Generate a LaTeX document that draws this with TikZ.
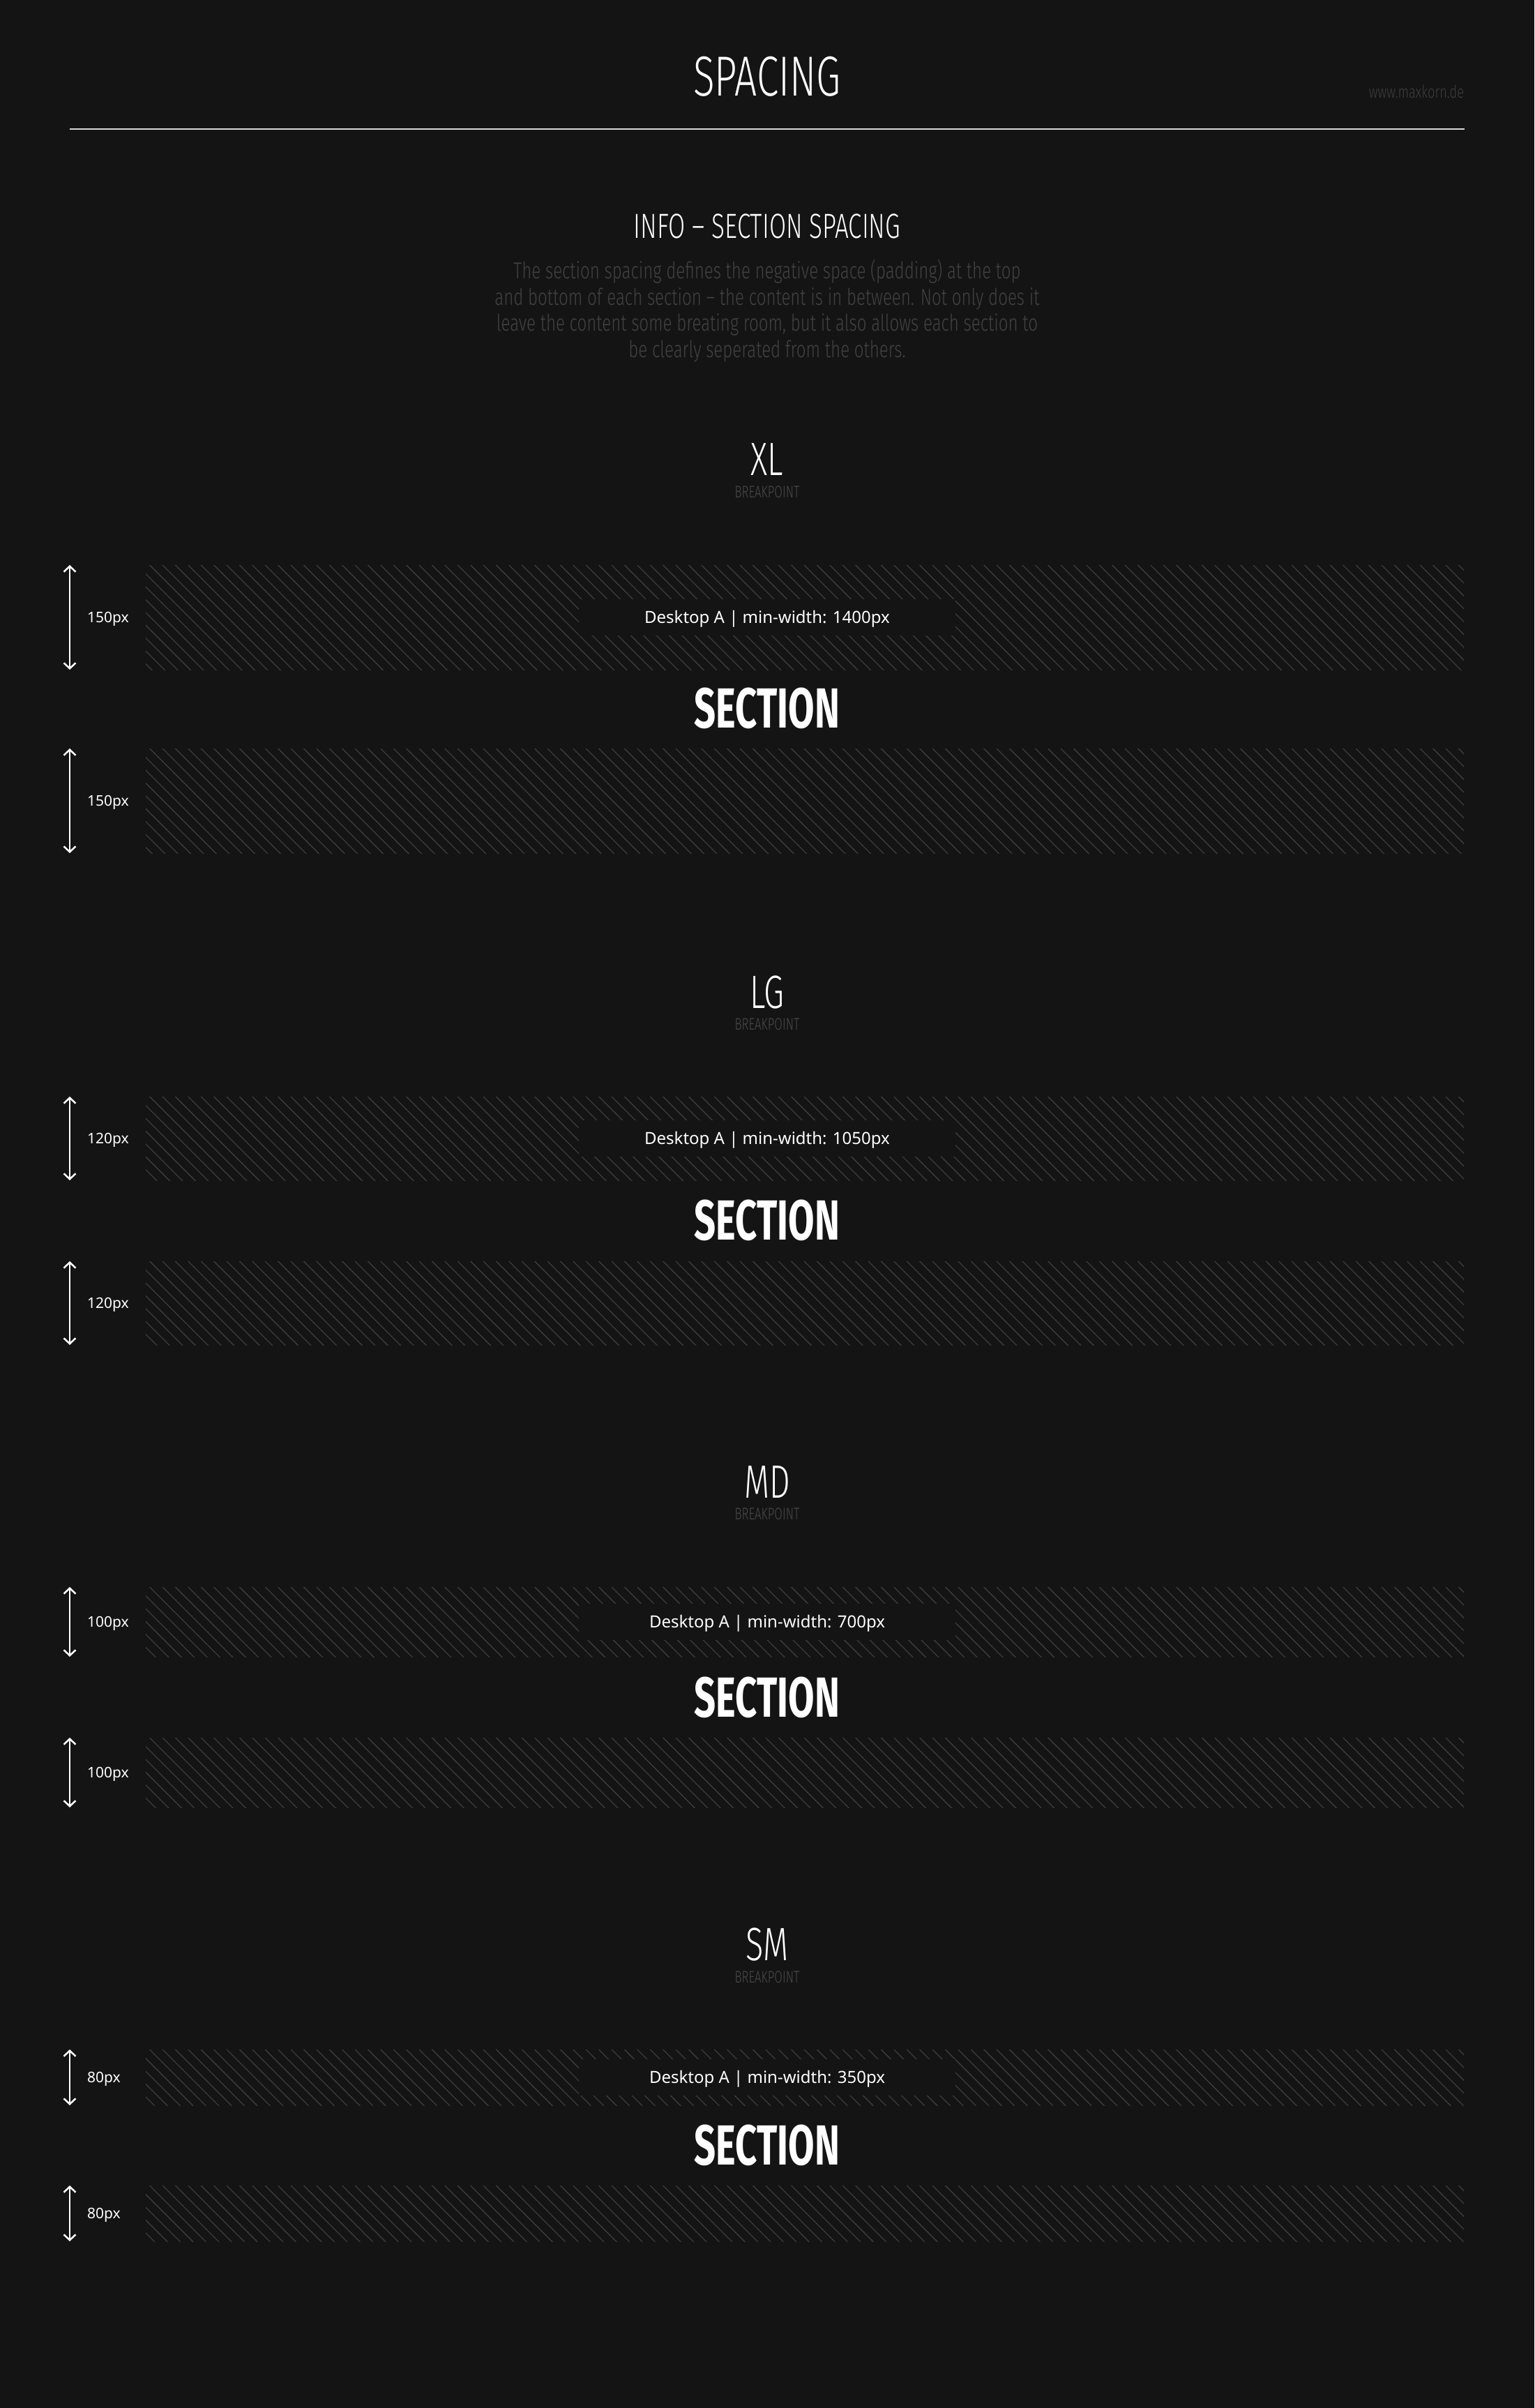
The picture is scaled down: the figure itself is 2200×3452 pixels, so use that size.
\documentclass[tikz,border=0pt]{standalone}
\usepackage{fontspec}
\setmainfont{Noto Sans}
\newfontfamily\thinf[FakeStretch=0.7]{Fira Sans Light}
\newfontfamily\paraf[FakeStretch=0.73]{Fira Sans Light}
\newfontfamily\condf[FakeStretch=0.67]{Fira Sans}
\usetikzlibrary{arrows.meta}
\definecolor{bg}{HTML}{141414}
\definecolor{rulec}{HTML}{D9D9D9}
\definecolor{paragc}{HTML}{424242}
\definecolor{bpc}{HTML}{4A4A4A}
\definecolor{wwwc}{HTML}{3E3E3E}
\definecolor{hatchc}{HTML}{3C3C3C}
\tikzset{
  every node/.style={inner sep=0pt, outer sep=0pt},
  maintitle/.style={text=white, font=\thinf\fontsize{81}{90}\selectfont},
  infohead/.style={text=white, font=\thinf\fontsize{50}{56}\selectfont},
  paragline/.style={text=paragc, anchor=base, font=\paraf\fontsize{33}{38}\selectfont},
  bptitle/.style={text=white, font=\thinf\fontsize{67}{75}\selectfont},
  bpsub/.style={text=bpc, font=\thinf\fontsize{24}{28}\selectfont},
  wwwlabel/.style={text=wwwc, anchor=east, font=\paraf\fontsize{25}{29}\selectfont},
  sectiontitle/.style={text=white, font=\condf\bfseries\fontsize{81}{90}\selectfont},
  hatchline/.style={draw=hatchc, line width=1.3pt},
  dimarrow/.style={draw=white, line width=2.5pt,
     {Straight Barb[length=8pt,width=17pt,line width=2.5pt]}-{Straight Barb[length=8pt,width=17pt,line width=2.5pt]}},
  pxlabel/.style={text=white, anchor=west, text height=15pt, text depth=0pt,
     font=\fontsize{21}{25}\selectfont},
  deskbox/.style={fill=bg, text=white, minimum width=540pt, minimum height=52pt,
     text height=17pt, text depth=0pt, font=\fontsize{24}{29}\selectfont},
}
\newcommand{\spband}[4]{%
  \begin{scope}
    \clip (209,#2) rectangle (2099,#3);
    \foreach \i in {0,...,114} \draw[hatchline] ({49+\i*18.4},#2) -- ++(200,200);
  \end{scope}
  \coordinate (#1t) at (100,#2);
  \coordinate (#1b) at (100,#3);
  \draw[dimarrow] (#1t) -- (#1b);
  \node[pxlabel] (#1l) at (125,{(#2+#3)/2}) {#4};
}
\begin{document}
\begin{tikzpicture}[x=1pt,y=-1pt]
\fill[bg] (0,0) rectangle (2200,3452);
\useasboundingbox (0,0) rectangle (2200,3452);

% header
\node[maintitle] (title) at (1100,110) {SPACING};
\node[wwwlabel] (www) at (2099,131) {www.maxkorn.de};
\coordinate (ruleL) at (100,185);
\coordinate (ruleR) at (2100,185);
\draw[rulec, line width=2pt] (ruleL) -- (ruleR);

% info
\node[infohead] (info) at (1100,324) {INFO – SECTION SPACING};
\node[paragline] (p1) at (1100,399) {The section spacing defines the negative space (padding) at the top};
\node[paragline] (p2) at (1100,437) {and bottom of each section – the content is in between. Not only does it};
\node[paragline] (p3) at (1100,474) {leave the content some breating room, but it also allows each section to};
\node[paragline] (p4) at (1100,512) {be clearly seperated from the others.};

% XL
\node[bptitle] (xl) at (1100,659) {XL};
\node[bpsub] (xlbp) at (1100,705) {BREAKPOINT};
\spband{xla}{810}{960}{150px}
\node[deskbox] (xlbox) at (1100,885) {Desktop A | min-width: 1400px};
\node[sectiontitle] (xlsec) at (1100,1015) {SECTION};
\spband{xlb}{1073}{1223}{150px}

% LG
\node[bptitle] (lg) at (1100,1423) {LG};
\node[bpsub] (lgbp) at (1100,1468) {BREAKPOINT};
\spband{lga}{1572}{1692}{120px}
\node[deskbox] (lgbox) at (1100,1632) {Desktop A | min-width: 1050px};
\node[sectiontitle] (lgsec) at (1100,1749) {SECTION};
\spband{lgb}{1808}{1928}{120px}

% MD
\node[bptitle] (md) at (1100,2125) {MD};
\node[bpsub] (mdbp) at (1100,2170) {BREAKPOINT};
\spband{mda}{2275}{2375}{100px}
\node[deskbox] (mdbox) at (1100,2325) {Desktop A | min-width: 700px};
\node[sectiontitle] (mdsec) at (1100,2433) {SECTION};
\spband{mdb}{2491}{2591}{100px}

% SM
\node[bptitle] (sm) at (1100,2788) {SM};
\node[bpsub] (smbp) at (1100,2834) {BREAKPOINT};
\spband{sma}{2938}{3018}{80px}
\node[deskbox] (smbox) at (1100,2978) {Desktop A | min-width: 350px};
\node[sectiontitle] (smsec) at (1100,3075) {SECTION};
\spband{smb}{3133}{3213}{80px}
\end{tikzpicture}
\end{document}
